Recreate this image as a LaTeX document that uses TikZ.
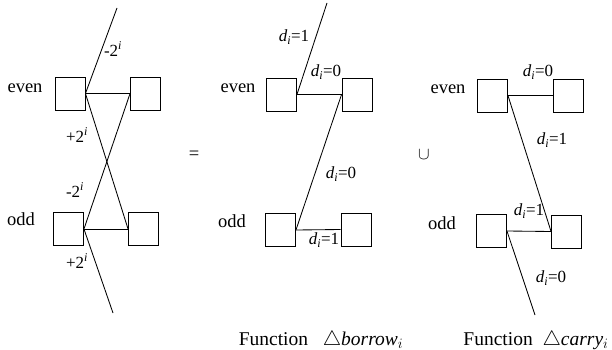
\documentclass[tikz,border=0pt]{standalone}
\usepackage{fontspec}
\setmainfont{Liberation Serif}
\begin{document}
\begin{tikzpicture}[x=1pt,y=-1pt,
  bx/.style={draw,line width=0.9pt,minimum width=30pt,minimum height=33pt,inner sep=0pt},
  ln/.style={line width=0.85pt},
  lbl/.style={inner sep=0pt,font=\rmfamily\fontsize{17}{19}\selectfont},
  word/.style={inner sep=0pt,font=\rmfamily\fontsize{18.5}{20}\selectfont},
  captxt/.style={inner sep=0pt,font=\rmfamily\fontsize{19.5}{21}\selectfont}]
\useasboundingbox (0,0) rectangle (612,350);
% ---------- left diagram ----------
\node[bx] (Ae) at (70,93.5) {};
\node[bx] (Be) at (145.5,93.5) {};
\node[bx] (Ao) at (68.5,229) {};
\node[bx] (Bo) at (143.5,229) {};
\coordinate (At) at (117,8);
\coordinate (Ab) at (113,313);
\draw[ln] (At) -- (Ae.east);
\draw[ln] (Ae.east) -- (Be.west);
\draw[ln] (Ae.east) -- (Bo.west);
\draw[ln] (Ao.east) -- (Be.west);
\draw[ln] (Ao.east) -- (Bo.west);
\draw[ln] (Ao.east) -- (Ab);
\node[lbl] (l1) at (113,49) {-2\textsuperscript{\textit{i}}};
\node[lbl] (l2) at (77,135) {+2\textsuperscript{\textit{i}}};
\node[lbl] (l3) at (75,190) {-2\textsuperscript{\textit{i}}};
\node[lbl] (l4) at (77,261) {+2\textsuperscript{\textit{i}}};
\node[word] (we1) at (25,88) {even};
\node[word] (wo1) at (21,219) {odd};
\node[word] (eq) at (194,155) {=};
% ---------- middle diagram ----------
\node[bx] (Ce) at (281.5,94.5) {};
\node[bx] (De) at (357,94.5) {};
\node[bx] (Co) at (280.5,230) {};
\node[bx] (Do) at (356,229.5) {};
\coordinate (Ct) at (327,3);
\draw[ln] (Ct) -- (Ce.east);
\draw[ln] (Ce.east) -- (De.west);
\draw[ln] (De.west) -- (Co.east);
\draw[ln] (Co.east) -- (Do.west);
\node[lbl] (m1) at (294,37) {\textit{d}\textsubscript{\textit{i}}=1};
\node[lbl] (m2) at (326,72) {\textit{d}\textsubscript{\textit{i}}=0};
\node[lbl] (m3) at (341,174) {\textit{d}\textsubscript{\textit{i}}=0};
\node[lbl] (m4) at (324,240) {\textit{d}\textsubscript{\textit{i}}=1};
\node[word] (we2) at (238,88) {even};
\node[word] (wo2) at (232,221) {odd};
\node[captxt] (fb) at (321,340) {Function\ \ \ $\triangle$\textit{borrow}$_i$};
\node[word] (cup) at (424,155) {$\cup$};
% ---------- right diagram ----------
\node[bx] (Ee) at (492.5,95.5) {};
\node[bx] (Fe) at (568,95.5) {};
\node[bx] (Eo) at (491.5,231) {};
\node[bx] (Fo) at (566.5,231.5) {};
\coordinate (Eb) at (535,315);
\draw[ln] (Ee.east) -- (Fe.west);
\draw[ln] (Ee.east) -- (Fo.west);
\draw[ln] (Eo.east) -- (Fo.west);
\draw[ln] (Eo.east) -- (Eb);
\node[lbl] (r1) at (538,72) {\textit{d}\textsubscript{\textit{i}}=0};
\node[lbl] (r2) at (552,140) {\textit{d}\textsubscript{\textit{i}}=1};
\node[lbl] (r3) at (529,211) {\textit{d}\textsubscript{\textit{i}}=1};
\node[lbl] (r4) at (551,278) {\textit{d}\textsubscript{\textit{i}}=0};
\node[word] (we3) at (448,89) {even};
\node[word] (wo3) at (442,223) {odd};
\node[captxt] (fc) at (536,340) {Function\ \ $\triangle$\textit{carry}$_i$};
\end{tikzpicture}
\end{document}
